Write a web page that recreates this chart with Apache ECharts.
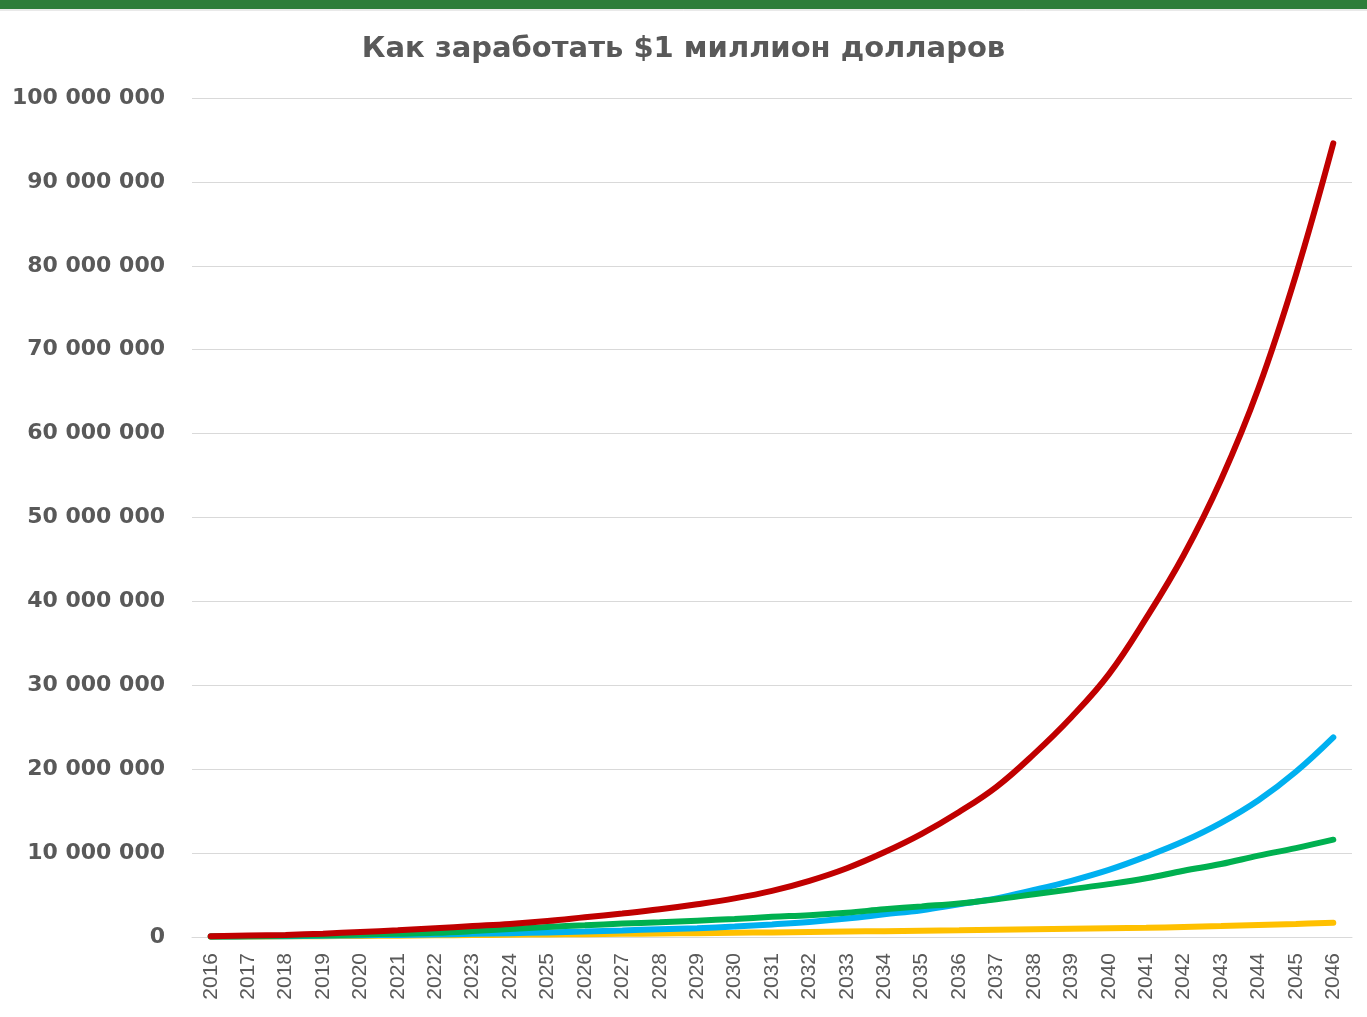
<!DOCTYPE html>
<html>
<head>
<meta charset="utf-8">
<script src="https://cdn.jsdelivr.net/npm/echarts@6/dist/echarts.min.js"></script>
<style>
  html, body { margin: 0; padding: 0; background: #fff; }
  #chart { width: 1367px; height: 1017px; }
</style>
</head>
<body>
<div id="chart"></div>
<script>
var years = [];
for (var y = 2016; y <= 2046; y++) years.push(String(y));

// values in millions of dollars
var redVals = [0.1, 0.17, 0.25, 0.4, 0.6, 0.8, 1.05, 1.3, 1.55, 1.9, 2.35, 2.8, 3.3, 3.9, 4.6,
  5.5, 6.7, 8.2, 10.1, 12.3, 14.9, 17.9, 21.8, 26.2, 31.3, 38.0, 45.5, 54.5, 65.4, 78.9, 94.6];
var blueVals = [0.05, 0.08, 0.1, 0.15, 0.2, 0.25, 0.3, 0.38, 0.45, 0.55, 0.65, 0.78, 0.92, 1.05, 1.25,
  1.5, 1.8, 2.2, 2.7, 3.2, 3.9, 4.6, 5.6, 6.7, 8.0, 9.6, 11.4, 13.6, 16.3, 19.7, 23.8];
var greenVals = [0.05, 0.1, 0.15, 0.2, 0.3, 0.4, 0.5, 0.7, 0.95, 1.2, 1.4, 1.6, 1.75, 1.95, 2.15,
  2.4, 2.6, 2.9, 3.3, 3.65, 4.0, 4.5, 5.1, 5.7, 6.3, 7.0, 7.9, 8.7, 9.7, 10.6, 11.6];
var yellowVals = [0.02, 0.05, 0.08, 0.1, 0.13, 0.16, 0.2, 0.23, 0.27, 0.3, 0.34, 0.38, 0.42, 0.46, 0.5,
  0.55, 0.6, 0.65, 0.7, 0.75, 0.8, 0.86, 0.92, 0.98, 1.04, 1.1, 1.2, 1.3, 1.42, 1.55, 1.7];

function toDollars(arr) {
  return arr.map(function (v) { return Math.round(v * 1e6); });
}

function spaced(v) {
  return String(v).replace(/\B(?=(\d{3})+(?!\d))/g, ' ');
}

var chart = echarts.init(document.getElementById('chart'));

function lineSeries(name, vals, color) {
  return {
    name: name,
    type: 'line',
    smooth: 0.4,
    symbol: 'none',
    data: toDollars(vals),
    lineStyle: { color: color, width: 6, cap: 'round' },
    itemStyle: { color: color }
  };
}

var option = {
  backgroundColor: '#ffffff',
  animation: false,
  title: {
    text: 'Как заработать $1 миллион долларов',
    left: 'center',
    top: 30,
    textStyle: {
      fontFamily: 'DejaVu Sans',
      fontWeight: 'bold',
      fontSize: 29,
      color: '#595959'
    }
  },
  graphic: [
    { type: 'rect', shape: { x: 0, y: 0, width: 1367, height: 9 }, style: { fill: '#2e7d3a' } },
    { type: 'line', shape: { x1: 0, y1: 10, x2: 1367, y2: 10 }, style: { stroke: '#d4d4d4', lineWidth: 1 } }
  ],
  grid: { left: 192, right: 15, top: 98, bottom: 80 },
  xAxis: {
    type: 'category',
    data: years,
    boundaryGap: true,
    axisLine: { lineStyle: { color: '#d9d9d9', width: 1 } },
    axisTick: { show: false },
    axisLabel: {
      rotate: 90,
      interval: 0,
      margin: 16,
      fontFamily: 'Liberation Sans',
      fontSize: 21,
      color: '#595959'
    }
  },
  yAxis: {
    type: 'value',
    min: 0,
    max: 100000000,
    interval: 10000000,
    axisLine: { show: false },
    axisTick: { show: false },
    splitLine: { lineStyle: { color: '#d9d9d9', width: 1 } },
    axisLabel: {
      margin: 27,
      fontFamily: 'DejaVu Sans',
      fontWeight: 'bold',
      fontSize: 22,
      color: '#595959',
      formatter: function (v) { return spaced(v); }
    }
  },
  series: [
    lineSeries('yellow', yellowVals, '#ffc000'),
    lineSeries('blue', blueVals, '#00b0f0'),
    lineSeries('green', greenVals, '#00b050'),
    lineSeries('red', redVals, '#c00000')
  ]
};

chart.setOption(option);
</script>
</body>
</html>
